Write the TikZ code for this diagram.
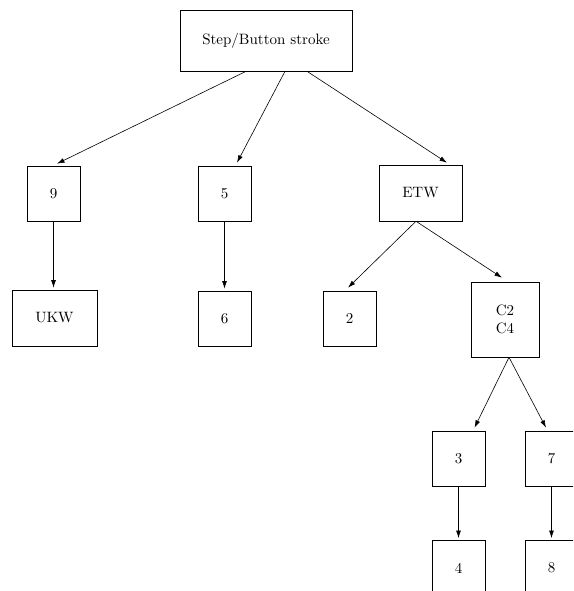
\documentclass[tikz,border=0pt]{standalone}
\usetikzlibrary{arrows.meta,calc}

\tikzset{
    box/.style={draw, inner sep=0pt, align=center},
    link/.style={-{Latex[length=5pt,width=3.2pt]}}
}

\begin{document}
\begin{tikzpicture}[x=0.667pt, y=-0.667pt]
                \clip (0,0) rectangle (573,591);

                \node[box, minimum width=114.7pt, minimum height=40.7pt] (root) at (266,40.5) {Step/Button stroke};

                \node[box, minimum width=35.3pt, minimum height=36.7pt] (n9) at (53.5,193.5) {9};
                \node[box, minimum width=35.3pt, minimum height=36.7pt] (n5) at (224.5,193.5) {5};
                \node[box, minimum width=55.3pt, minimum height=37.3pt] (etw) at (420.5,193) {ETW};

                \node[box, minimum width=56.7pt, minimum height=37.3pt] (ukw) at (54.5,318) {UKW};
                \node[box, minimum width=35.3pt, minimum height=36.7pt] (n6) at (224.5,318.5) {6};
                \node[box, minimum width=35.3pt, minimum height=36.7pt] (n2) at (349.5,318.5) {2};
                \node[box, minimum width=45.3pt, minimum height=50pt] (c24) at (505,319.5) {C2\\C4};

                \node[box, minimum width=35.3pt, minimum height=36.7pt] (n3) at (458.5,458.5) {3};
                \node[box, minimum width=35.3pt, minimum height=36.7pt] (n7) at (551.5,458.5) {7};
                \node[box, minimum width=35.3pt, minimum height=36.7pt] (n4) at (458.5,568) {4};
                \node[box, minimum width=35.3pt, minimum height=36.7pt] (n8) at (551.5,568) {8};

                % top level
                \draw[link] ($(root.south)+(-20,0)$) -- ($(n9.north)+(3.5,-2)$);
                \draw[link] ($(root.south)+(19,0)$) -- ($(n5.north)+(12.5,-3)$);
                \draw[link] ($(root.south)+(41,0)$) -- ($(etw.north)+(26.5,-2)$);

                \draw[link] (n9.south) -- ($(n9.south |- ukw.north)+(0,-2)$);
                \draw[link] (n5.south) -- ($(n6.north)+(0,-2)$);

                \draw[link] ($(etw.south)+(-4.5,0)$) -- ($(n2.north)+(-1.5,-3)$);
                \draw[link] ($(etw.south)+(-4.5,0)$) -- ($(c24.north)+(-3,-4)$);

                \draw[link] ($(c24.south)+(4,0)$) -- ($(n3.north)+(16,-3)$);
                \draw[link] ($(c24.south)+(4,0)$) -- ($(n7.north)+(-5.5,-3)$);

                \draw[link] (n3.south) -- ($(n4.north)+(0,-2)$);
                \draw[link] (n7.south) -- ($(n8.north)+(0,-2)$);
            \end{tikzpicture}
\end{document}
